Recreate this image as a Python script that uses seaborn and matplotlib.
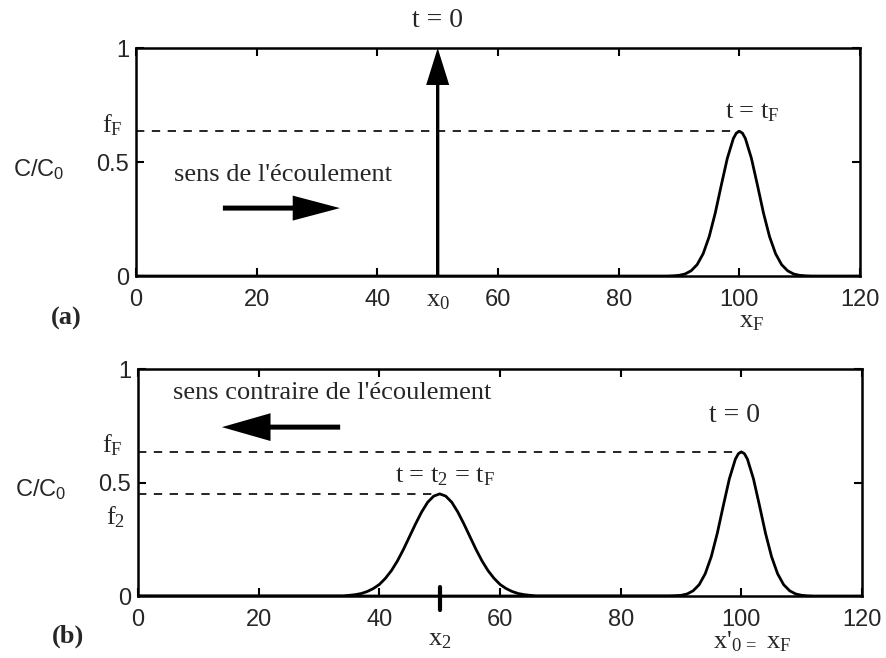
import numpy as np
import pandas as pd
import seaborn as sns
import matplotlib.pyplot as plt

# Values
x_ticks = [0, 20, 40, 60, 80, 100, 120]
y_ticks = [0, 0.5, 1]
y_tick_labels = ['0', '0.5', '1']

x0 = 50      # injection point, panel (a)
xF = 100     # front position at t = tF
x2 = 50      # position of reversed pulse at t = t2
fF = 0.635   # peak concentration at x = xF
f2 = 0.45    # peak concentration at x = x2

# panel (a) / (b) right pulse around xF
pulse_F_x = [0, 88, 89, 90, 91, 92, 93, 94, 95, 96, 97, 98, 99, 99.5, 100, 100.5,
             101, 102, 103, 104, 105, 106, 107, 108, 109, 110, 111, 112, 120]
pulse_F_y = [0, 0.0, 0.001, 0.003, 0.009, 0.023, 0.050, 0.098, 0.173, 0.276, 0.398, 0.516, 0.603, 0.627, 0.635, 0.627,
             0.603, 0.516, 0.398, 0.276, 0.173, 0.098, 0.050, 0.023, 0.009, 0.003, 0.001, 0.0, 0]

# panel (b) left pulse around x2
pulse_2_x = [0, 34, 35, 36, 37, 38, 39, 40, 41, 42, 43, 44, 45, 46, 47, 48, 49, 50,
             51, 52, 53, 54, 55, 56, 57, 58, 59, 60, 61, 62, 63, 64, 65, 66, 90]
pulse_2_y = [0, 0.0, 0.003, 0.006, 0.011, 0.020, 0.033, 0.051, 0.078, 0.112, 0.155, 0.206, 0.262, 0.318, 0.370, 0.413, 0.440, 0.450,
             0.440, 0.413, 0.370, 0.318, 0.262, 0.206, 0.155, 0.112, 0.078, 0.051, 0.033, 0.020, 0.011, 0.006, 0.003, 0.0, 0]

sns.set_style('ticks')
plt.rcParams['font.family'] = ['Liberation Serif', 'DejaVu Serif']
plt.rcParams['mathtext.fontset'] = 'custom'
plt.rcParams['mathtext.rm'] = 'Liberation Serif'
plt.rcParams['mathtext.it'] = 'Liberation Serif'
plt.rcParams['mathtext.sf'] = 'Liberation Sans'

SANS = ['Liberation Sans', 'DejaVu Sans']

fig = plt.figure(figsize=(8.86, 6.58), dpi=100)
ax_a = fig.add_axes([0.1535, 0.5805, 0.8172, 0.3465])
ax_b = fig.add_axes([0.1558, 0.0942, 0.8172, 0.345])


def style_axes(ax):
    ax.set_xlim(0, 120)
    ax.set_ylim(0, 1)
    ax.set_xticks(x_ticks)
    ax.set_yticks(y_ticks)
    ax.set_xticklabels([str(v) for v in x_ticks], family=SANS, fontsize=17)
    ax.set_yticklabels(y_tick_labels, family=SANS, fontsize=17)
    ax.tick_params(axis='both', direction='in', top=True, right=True,
                   length=6, width=1.5, color='black')
    ax.tick_params(axis='x', pad=9)
    ax.tick_params(axis='y', pad=5)
    for sp in ax.spines.values():
        sp.set_visible(True)
        sp.set_linewidth(1.8)
        sp.set_color('black')
    ax.set_xlabel('')
    ax.set_ylabel('')


def flow_arrow(ax, x_from, x_to, y, hl, hw, tw):
    ax.annotate('', xy=(x_to, y), xytext=(x_from, y),
                arrowprops=dict(arrowstyle=f'simple,head_length={hl},head_width={hw},tail_width={tw}',
                                mutation_scale=10, color='black', lw=0,
                                shrinkA=0, shrinkB=0))


# ---------- panel (a)
df_a = pd.DataFrame({'x': pulse_F_x, 'C': pulse_F_y})
sns.lineplot(data=df_a, x='x', y='C', ax=ax_a, color='black', lw=2)
ax_a.plot([0, xF], [fF, fF], color='black', lw=1.2, ls=(0, (5, 4.5)))
style_axes(ax_a)

# injection arrow at x0
ax_a.annotate('', xy=(x0, 1), xytext=(x0, 0),
              arrowprops=dict(arrowstyle='simple,head_length=2.66,head_width=1.66,tail_width=0.24',
                              mutation_scale=10, color='black', lw=0, shrinkA=0, shrinkB=0))
flow_arrow(ax_a, 14.4, 33.8, 0.298, 3.4, 1.8, 0.36)

ax_a.text(x0, 1.12, 't = 0', ha='center', va='center', fontsize=20, clip_on=False)
ax_a.text(102.1, 0.715, r't = t$_\mathrm{F}$', ha='center', va='center', fontsize=19)
ax_a.text(24.4, 0.443, "sens de l'écoulement", ha='center', va='center', fontsize=19)
ax_a.text(-4.0, 0.66, r'f$_\mathrm{F}$', ha='center', va='center', fontsize=19, clip_on=False)
ax_a.text(-16.2, 0.465, r'C/C$_\mathsf{0}$', ha='center', va='center', family=SANS, fontsize=17, clip_on=False)
ax_a.text(x0, -0.11, r'x$_\mathrm{0}$', ha='center', va='center', fontsize=19, clip_on=False)
ax_a.text(xF + 2, -0.2, r'x$_\mathrm{F}$', ha='center', va='center', fontsize=19, clip_on=False)
ax_a.text(-11.6, -0.184, '(a)', ha='center', va='center', fontsize=19, fontweight='bold', clip_on=False)

# ---------- panel (b)
df_b = pd.concat([pd.DataFrame({'x': pulse_2_x, 'C': pulse_2_y, 'pulse': 'x2'}),
                  pd.DataFrame({'x': pulse_F_x, 'C': pulse_F_y, 'pulse': 'xF'})])
for name, grp in df_b.groupby('pulse'):
    sns.lineplot(data=grp, x='x', y='C', ax=ax_b, color='black', lw=2)
ax_b.plot([0, xF], [fF, fF], color='black', lw=1.2, ls=(0, (5, 4.5)))
ax_b.plot([0, x2], [f2, f2], color='black', lw=1.2, ls=(0, (5, 4.5)))
ax_b.plot([x2, x2], [-0.06, 0.04], color='black', lw=3, clip_on=False)
style_axes(ax_b)

flow_arrow(ax_b, 33.5, 13.9, 0.744, 3.5, 2.0, 0.36)

ax_b.text(32.2, 0.894, "sens contraire de l'écoulement", ha='center', va='center', fontsize=19)
ax_b.text(98.9, 0.793, 't = 0', ha='center', va='center', fontsize=20)
ax_b.text(50.8, 0.524, r't = t$_\mathrm{2}$ = t$_\mathrm{F}$', ha='center', va='center', fontsize=19)
ax_b.text(-4.3, 0.665, r'f$_\mathrm{F}$', ha='center', va='center', fontsize=19, clip_on=False)
ax_b.text(-16.2, 0.467, r'C/C$_\mathsf{0}$', ha='center', va='center', family=SANS, fontsize=17, clip_on=False)
ax_b.text(-3.8, 0.348, r'f$_\mathrm{2}$', ha='center', va='center', fontsize=19, clip_on=False)
ax_b.text(x2, -0.194, r'x$_\mathrm{2}$', ha='center', va='center', fontsize=19, clip_on=False)
ax_b.text(101.8, -0.2, r"x'$_\mathrm{0\,=}$ x$_\mathrm{F}$", ha='center', va='center', fontsize=19, clip_on=False)
ax_b.text(-11.6, -0.178, '(b)', ha='center', va='center', fontsize=19, fontweight='bold', clip_on=False)

fig.savefig('out.png', dpi=100)
